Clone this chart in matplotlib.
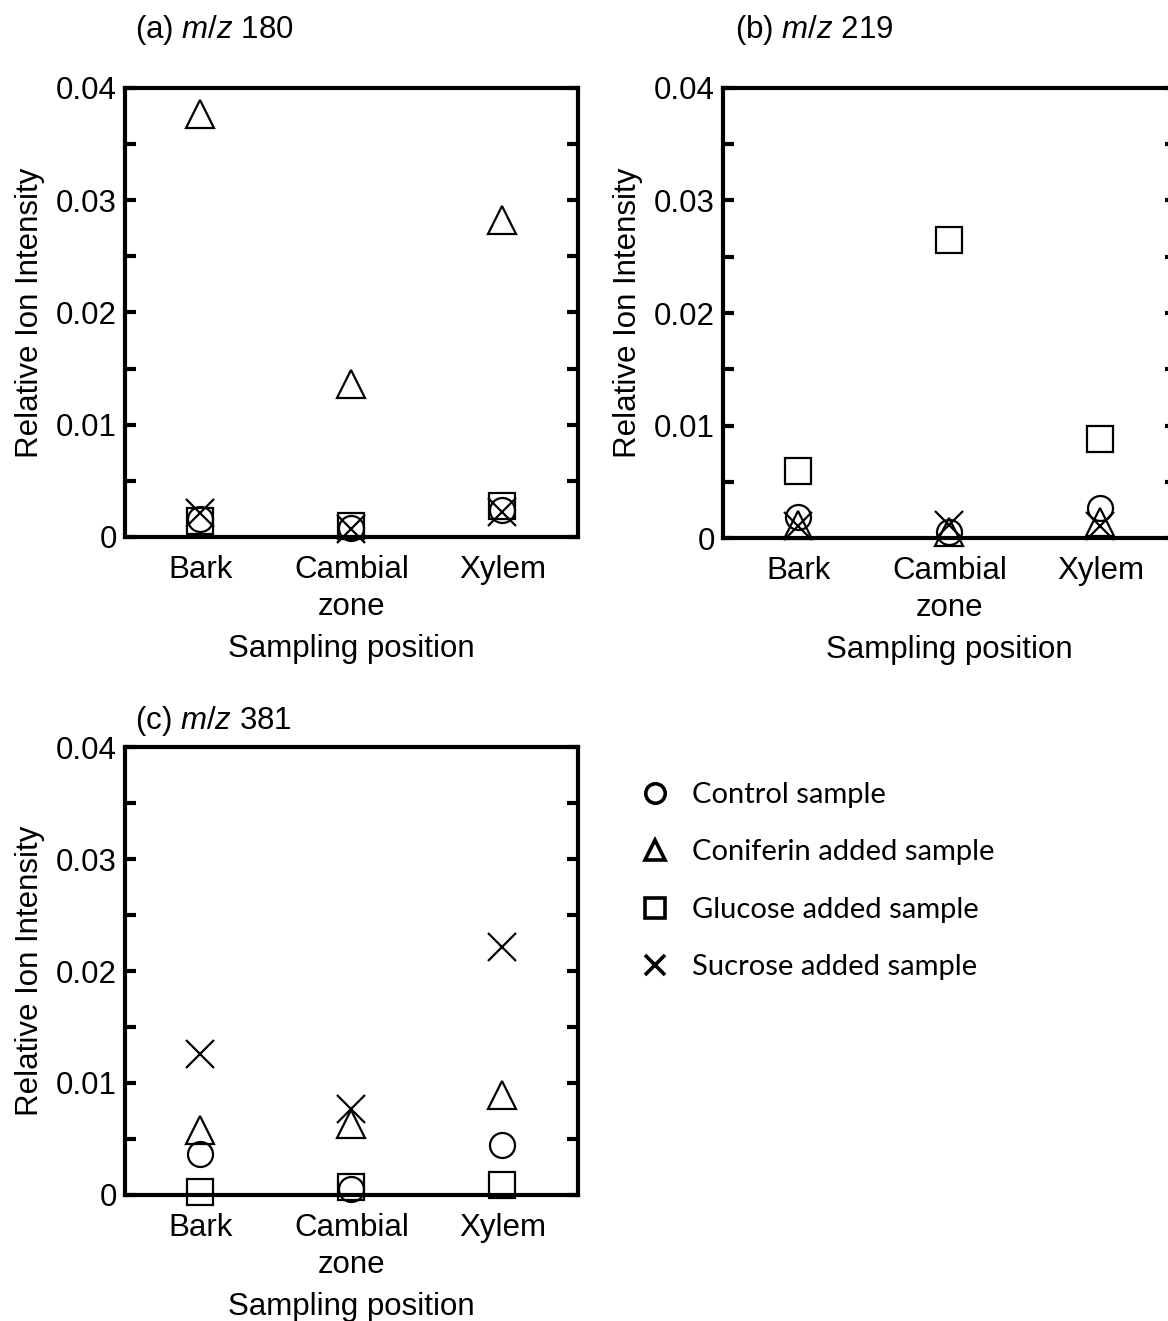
import matplotlib
matplotlib.use("Agg")
import matplotlib.pyplot as plt
from matplotlib.lines import Line2D

plt.rcParams['font.family'] = ['Liberation Sans', 'DejaVu Sans']
plt.rcParams['mathtext.fontset'] = 'custom'
plt.rcParams['mathtext.it'] = 'Liberation Sans:italic'
plt.rcParams['mathtext.rm'] = 'Liberation Sans'

positions = ["Bark", "Cambial\nzone", "Xylem"]
samples = ["Control sample", "Coniferin added sample",
           "Glucose added sample", "Sucrose added sample"]
yticks = [0, 0.01, 0.02, 0.03, 0.04]
ytick_labels = ["0", "0.01", "0.02", "0.03", "0.04"]
yminor = [0.005, 0.015, 0.025, 0.035]

# relative ion intensity, order: Bark, Cambial zone, Xylem
mz180_control = [0.0016, 0.0008, 0.0024]
mz180_coniferin = [0.0377, 0.0136, 0.0282]
mz180_glucose = [0.0014, 0.0010, 0.0028]
mz180_sucrose = [0.0021, 0.0007, 0.0022]

mz219_control = [0.0019, 0.0005, 0.0027]
mz219_coniferin = [0.0012, 0.0005, 0.0014]
mz219_glucose = [0.0060, 0.0265, 0.0088]
mz219_sucrose = [0.0011, 0.0012, 0.0011]

mz381_control = [0.0037, 0.0005, 0.0045]
mz381_coniferin = [0.0058, 0.0063, 0.0089]
mz381_glucose = [0.0003, 0.0007, 0.0009]
mz381_sucrose = [0.0126, 0.0077, 0.0221]

markers = ['o', '^', 's', 'x']
sizes = [18, 20, 19, 20]

fig = plt.figure(figsize=(11.68, 13.21), dpi=100)

# axes rect, title position (figure fraction), title, series
panels = [
    ([0.107, 0.5935, 0.3878, 0.3399], (0.116, 0.977), "(a) $\\mathit{m/z}$ 180",
     [mz180_control, mz180_coniferin, mz180_glucose, mz180_sucrose]),
    ([0.619, 0.5927, 0.3878, 0.3407], (0.629, 0.977), "(b) $\\mathit{m/z}$ 219",
     [mz219_control, mz219_coniferin, mz219_glucose, mz219_sucrose]),
    ([0.107, 0.0954, 0.3878, 0.3391], (0.116, 0.4545), "(c) $\\mathit{m/z}$ 381",
     [mz381_control, mz381_coniferin, mz381_glucose, mz381_sucrose]),
]

fs = 22.5
for rect, tpos, title, series in panels:
    ax = fig.add_axes(rect)
    x = range(len(positions))
    for vals, m, s in zip(series, markers, sizes):
        ax.plot(x, vals, linestyle='none', marker=m, markersize=s,
                markerfacecolor='none', markeredgecolor='black',
                markeredgewidth=1.6, clip_on=False, zorder=3)
    ax.set_xlim(-0.5, 2.5)
    ax.set_ylim(0, 0.04)
    ax.set_xticks(list(x))
    ax.set_xticklabels(positions, fontsize=fs, linespacing=1.3)
    ax.set_yticks(yticks)
    ax.set_yticks(yminor, minor=True)
    ax.set_yticklabels(ytick_labels, fontsize=fs)
    ax.tick_params(axis='x', length=0, pad=13)
    ax.tick_params(axis='y', which='both', direction='in', length=8,
                   width=3, left=True, right=True, pad=6)
    for sp in ax.spines.values():
        sp.set_linewidth(3)
    ax.set_xlabel("Sampling position", fontsize=fs, labelpad=9)
    ax.set_ylabel("Relative Ion Intensity", fontsize=fs, labelpad=8)
    fig.text(tpos[0], tpos[1], title, fontsize=fs, ha='left', va='center')

handles = [Line2D([], [], linestyle='none', marker=m, markersize=14,
                  markerfacecolor='none', markeredgecolor='black',
                  markeredgewidth=2.6) for m in markers]
fig.legend(handles, samples, loc='upper left',
           bbox_to_anchor=(0.526, 0.428), frameon=False,
           prop={'family': 'Lato', 'size': 21}, handlelength=1.0,
           handletextpad=0.75, labelspacing=1.08)

fig.savefig("out.png", dpi=100)
